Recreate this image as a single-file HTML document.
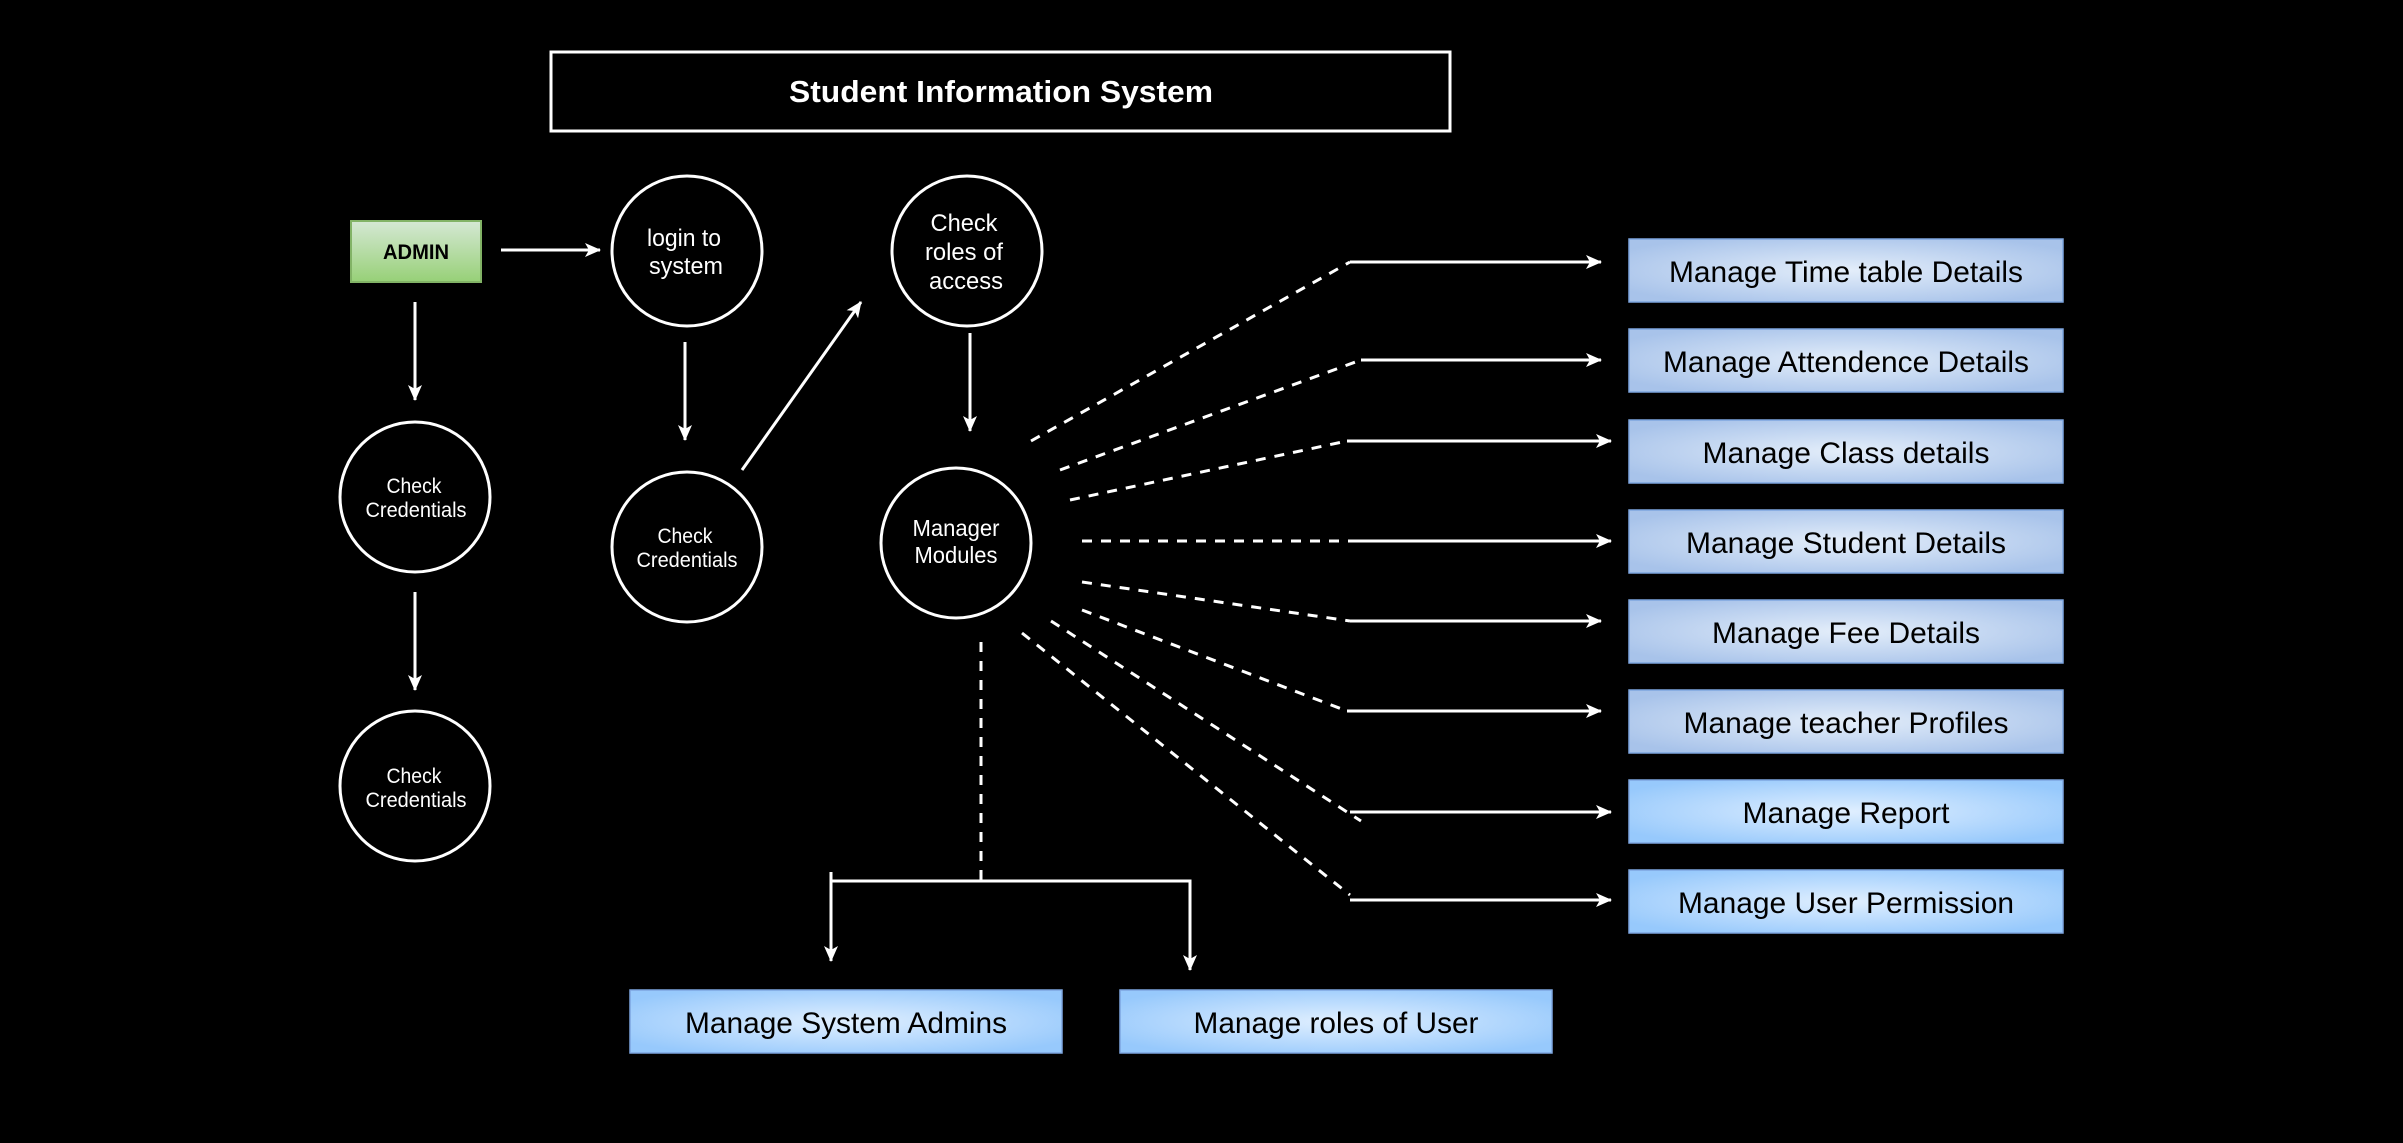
<!DOCTYPE html>
<html><head><meta charset="utf-8"><style>
html,body{margin:0;padding:0;background:#000;}
svg{display:block}
text{font-family:"Liberation Sans Narrow","Liberation Sans",sans-serif;}
</style></head><body>
<svg width="2403" height="1143" viewBox="0 0 2403 1143" xmlns="http://www.w3.org/2000/svg">
<defs>
<radialGradient id="g1" cx="50%" cy="50%" r="60%"><stop offset="0" stop-color="#e4eefa"/><stop offset="1" stop-color="#a8c3ea"/></radialGradient>
<radialGradient id="g2" cx="50%" cy="50%" r="60%"><stop offset="0" stop-color="#e0efff"/><stop offset="1" stop-color="#97c9fc"/></radialGradient>
<linearGradient id="gg" x1="0" y1="0" x2="0" y2="1"><stop offset="0" stop-color="#d5e8d4"/><stop offset="1" stop-color="#97d077"/></linearGradient>
<marker id="a" markerWidth="10" markerHeight="10" refX="9" refY="5" orient="auto" markerUnits="userSpaceOnUse" viewBox="0 0 10 10"><path d="M0,0 L10,5 L0,10 L3,5 z" fill="#fff"/></marker>
<marker id="b" markerWidth="16" markerHeight="16" refX="15" refY="8" orient="auto" markerUnits="userSpaceOnUse" viewBox="0 0 16 16"><path d="M0,1 L16,8 L0,15 L4,8 z" fill="#fff"/></marker>
</defs>
<rect width="2403" height="1143" fill="#000"/>
<!-- title -->
<rect x="551" y="52" width="899" height="79" fill="#000" stroke="#fff" stroke-width="3"/>
<text x="1001" y="102" text-anchor="middle" font-size="31" font-weight="bold" fill="#fff" style="font-family:'Liberation Sans',sans-serif" textLength="424" lengthAdjust="spacingAndGlyphs">Student Information System</text>
<!-- admin -->
<rect x="351" y="221" width="130" height="61" fill="url(#gg)" stroke="#82b366" stroke-width="2"/>
<text x="416" y="259" text-anchor="middle" font-size="21" font-weight="bold" fill="#000" textLength="66" lengthAdjust="spacingAndGlyphs">ADMIN</text>
<!-- circles -->
<g fill="#000" stroke="#fff" stroke-width="3">
<ellipse cx="687" cy="251" rx="75" ry="75"/>
<ellipse cx="967" cy="251" rx="75" ry="75"/>
<ellipse cx="415" cy="497" rx="75" ry="75"/>
<ellipse cx="415" cy="786" rx="75" ry="75"/>
<ellipse cx="687" cy="547" rx="75" ry="75"/>
<ellipse cx="956" cy="543" rx="75" ry="75"/>
</g>
<g fill="#fff" text-anchor="middle">
<text x="684" y="246" font-size="24" textLength="74" lengthAdjust="spacingAndGlyphs">login to</text>
<text x="686" y="274" font-size="24" textLength="74" lengthAdjust="spacingAndGlyphs">system</text>
<text x="964" y="231" font-size="24" textLength="67" lengthAdjust="spacingAndGlyphs">Check</text>
<text x="964" y="260" font-size="24" textLength="78" lengthAdjust="spacingAndGlyphs">roles of</text>
<text x="966" y="289" font-size="24" textLength="74" lengthAdjust="spacingAndGlyphs">access</text>
<text x="414" y="493" font-size="21" textLength="55" lengthAdjust="spacingAndGlyphs">Check</text>
<text x="416" y="517" font-size="21" textLength="101" lengthAdjust="spacingAndGlyphs">Credentials</text>
<text x="414" y="783" font-size="21" textLength="55" lengthAdjust="spacingAndGlyphs">Check</text>
<text x="416" y="807" font-size="21" textLength="101" lengthAdjust="spacingAndGlyphs">Credentials</text>
<text x="685" y="543" font-size="21" textLength="55" lengthAdjust="spacingAndGlyphs">Check</text>
<text x="687" y="567" font-size="21" textLength="101" lengthAdjust="spacingAndGlyphs">Credentials</text>
<text x="956" y="536" font-size="23" textLength="87" lengthAdjust="spacingAndGlyphs">Manager</text>
<text x="956" y="563" font-size="23" textLength="83" lengthAdjust="spacingAndGlyphs">Modules</text>
</g>
<!-- solid arrows -->
<g stroke="#fff" stroke-width="3" fill="none">
<line x1="501" y1="250" x2="600" y2="250" marker-end="url(#b)"/>
<line x1="415" y1="302" x2="415" y2="400" marker-end="url(#b)"/>
<line x1="415" y1="592" x2="415" y2="690" marker-end="url(#b)"/>
<line x1="685" y1="342" x2="685" y2="440" marker-end="url(#b)"/>
<line x1="742" y1="470" x2="861" y2="302" marker-end="url(#b)"/>
<line x1="970" y1="333" x2="970" y2="431" marker-end="url(#b)"/>
</g>
<!-- fan connectors -->
<g stroke="#fff" stroke-width="3" fill="none" stroke-dasharray="10,9">
<polyline points="1031,441 1350,262"/>
<polyline points="1060,470 1361,360"/>
<polyline points="1070,500 1347,441"/>
<polyline points="1082,541 1350,541"/>
<polyline points="1082,582 1350,621"/>
<polyline points="1082,610 1347,711"/>
<polyline points="1051,621 1361,821"/>
<polyline points="1022,633 1350,895"/>
<polyline points="981,642 981,880"/>
</g>
<g stroke="#fff" stroke-width="3" fill="none">
<line x1="1350" y1="262" x2="1601" y2="262" marker-end="url(#b)"/>
<line x1="1361" y1="360" x2="1601" y2="360" marker-end="url(#b)"/>
<line x1="1347" y1="441" x2="1611" y2="441" marker-end="url(#b)"/>
<line x1="1350" y1="541" x2="1611" y2="541" marker-end="url(#b)"/>
<line x1="1350" y1="621" x2="1601" y2="621" marker-end="url(#b)"/>
<line x1="1347" y1="711" x2="1601" y2="711" marker-end="url(#b)"/>
<line x1="1350" y1="812" x2="1611" y2="812" marker-end="url(#b)"/>
<line x1="1350" y1="900" x2="1611" y2="900" marker-end="url(#b)"/>
<polyline points="831,872 831,881 1190,881 1190,900"/>
<line x1="831" y1="881" x2="831" y2="961" marker-end="url(#b)"/>
<line x1="1190" y1="895" x2="1190" y2="970" marker-end="url(#b)"/>
</g>
<!-- right boxes -->
<g stroke="#7ea6e0" stroke-width="1.5">
<rect x="1629" y="239" width="434" height="63" fill="url(#g1)"/>
<rect x="1629" y="329" width="434" height="63" fill="url(#g1)"/>
<rect x="1629" y="420" width="434" height="63" fill="url(#g1)"/>
<rect x="1629" y="510" width="434" height="63" fill="url(#g1)"/>
<rect x="1629" y="600" width="434" height="63" fill="url(#g1)"/>
<rect x="1629" y="690" width="434" height="63" fill="url(#g1)"/>
<rect x="1629" y="780" width="434" height="63" fill="url(#g2)"/>
<rect x="1629" y="870" width="434" height="63" fill="url(#g2)"/>
<rect x="630" y="990" width="432" height="63" fill="url(#g2)"/>
<rect x="1120" y="990" width="432" height="63" fill="url(#g2)"/>
</g>
<g fill="#000" text-anchor="middle" font-size="30">
<text x="1846" y="282" textLength="354" lengthAdjust="spacingAndGlyphs">Manage Time table Details</text>
<text x="1846" y="372" textLength="366" lengthAdjust="spacingAndGlyphs">Manage Attendence Details</text>
<text x="1846" y="463" textLength="287" lengthAdjust="spacingAndGlyphs">Manage Class details</text>
<text x="1846" y="553" textLength="320" lengthAdjust="spacingAndGlyphs">Manage Student Details</text>
<text x="1846" y="643" textLength="268" lengthAdjust="spacingAndGlyphs">Manage Fee Details</text>
<text x="1846" y="733" textLength="325" lengthAdjust="spacingAndGlyphs">Manage teacher Profiles</text>
<text x="1846" y="823" textLength="207" lengthAdjust="spacingAndGlyphs">Manage Report</text>
<text x="1846" y="913" textLength="336" lengthAdjust="spacingAndGlyphs">Manage User Permission</text>
<text x="846" y="1033" textLength="322" lengthAdjust="spacingAndGlyphs">Manage System Admins</text>
<text x="1336" y="1033" textLength="285" lengthAdjust="spacingAndGlyphs">Manage roles of User</text>
</g>
</svg>
</body></html>
